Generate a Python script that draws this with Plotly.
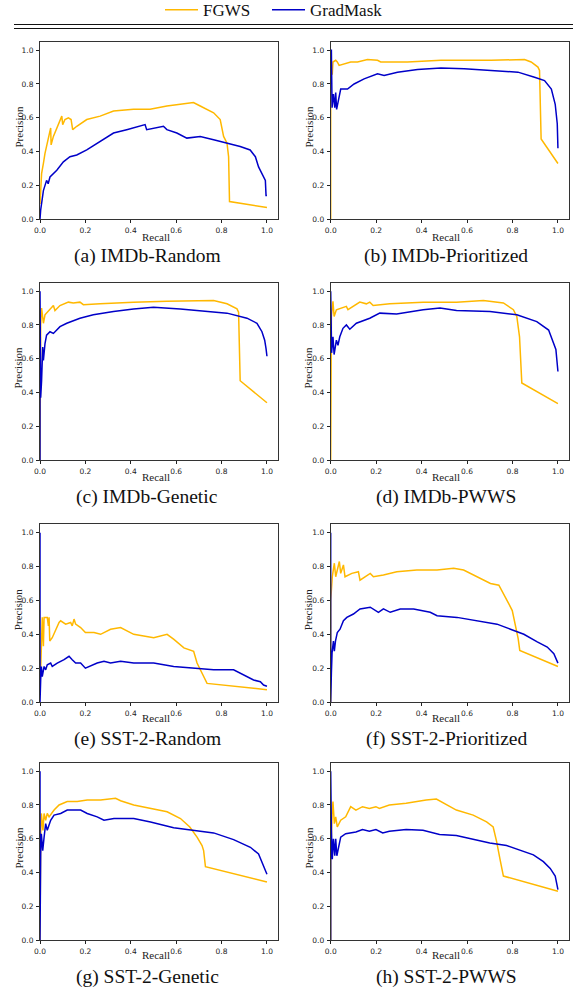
import plotly.graph_objects as go

# ---------------- data (recall, precision) ----------------
panel_titles = ["(a) IMDb-Random", "(b) IMDb-Prioritized", "(c) IMDb-Genetic", "(d) IMDb-PWWS",
                "(e) SST-2-Random", "(f) SST-2-Prioritized", "(g) SST-2-Genetic", "(h) SST-2-PWWS"]
series_names = ["FGWS", "GradMask"]
tick_vals = [0.0, 0.2, 0.4, 0.6, 0.8, 1.0]
tick_text = ["0.0", "0.2", "0.4", "0.6", "0.8", "1.0"]

a_fgws_r = [0, 0.007, 0.015, 0.022, 0.047, 0.049, 0.059, 0.096, 0.1, 0.11, 0.125, 0.137, 0.144, 0.162, 0.206, 0.265, 0.324, 0.412, 0.485, 0.559, 0.618, 0.676, 0.706, 0.765, 0.794, 0.809, 0.824, 0.831, 0.835, 1.0]
a_fgws_p = [0.09, 0.27, 0.33, 0.39, 0.54, 0.44, 0.49, 0.61, 0.56, 0.59, 0.60, 0.59, 0.53, 0.55, 0.59, 0.61, 0.64, 0.65, 0.65, 0.67, 0.68, 0.69, 0.67, 0.63, 0.59, 0.49, 0.45, 0.37, 0.105, 0.07]
a_grad_r = [0, 0.003, 0.015, 0.029, 0.036, 0.044, 0.074, 0.103, 0.132, 0.162, 0.206, 0.265, 0.324, 0.382, 0.441, 0.463, 0.47, 0.515, 0.544, 0.559, 0.603, 0.647, 0.706, 0.765, 0.824, 0.882, 0.926, 0.949, 0.963, 0.978, 0.993, 0.996, 1.0]
a_grad_p = [0.0, 0.055, 0.17, 0.23, 0.21, 0.25, 0.29, 0.34, 0.37, 0.38, 0.41, 0.46, 0.51, 0.53, 0.55, 0.56, 0.53, 0.54, 0.55, 0.53, 0.51, 0.48, 0.49, 0.47, 0.45, 0.43, 0.41, 0.37, 0.31, 0.27, 0.23, 0.14, 0.14]

b_fgws_r = [0, 0, 0.007, 0.01, 0.022, 0.029, 0.037, 0.059, 0.088, 0.118, 0.162, 0.206, 0.22, 0.338, 0.485, 0.706, 0.853, 0.882, 0.912, 0.919, 0.926, 1.0]
b_fgws_p = [0.0, 0.85, 0.86, 0.93, 0.94, 0.93, 0.91, 0.92, 0.93, 0.93, 0.945, 0.94, 0.93, 0.93, 0.94, 0.94, 0.945, 0.93, 0.90, 0.88, 0.475, 0.33]
b_grad_r = [0, 0.003, 0.006, 0.012, 0.018, 0.022, 0.026, 0.037, 0.044, 0.074, 0.103, 0.147, 0.206, 0.235, 0.294, 0.382, 0.485, 0.588, 0.706, 0.824, 0.897, 0.941, 0.971, 0.988, 0.997, 1.0]
b_grad_p = [1.0, 1.0, 0.66, 0.74, 0.66, 0.75, 0.65, 0.74, 0.77, 0.77, 0.80, 0.83, 0.86, 0.85, 0.87, 0.885, 0.895, 0.89, 0.88, 0.87, 0.84, 0.82, 0.77, 0.68, 0.565, 0.42]

c_fgws_r = [0, 0, 0.003, 0.007, 0.015, 0.022, 0.037, 0.059, 0.066, 0.088, 0.125, 0.147, 0.176, 0.191, 0.265, 0.412, 0.559, 0.706, 0.765, 0.824, 0.868, 0.875, 0.882, 1.0]
c_fgws_p = [0.0, 0.25, 0.80, 0.90, 0.81, 0.86, 0.88, 0.915, 0.885, 0.915, 0.935, 0.93, 0.935, 0.92, 0.925, 0.935, 0.94, 0.945, 0.945, 0.925, 0.895, 0.875, 0.47, 0.34]
c_grad_r = [0, 0, 0.003, 0.007, 0.012, 0.015, 0.022, 0.029, 0.044, 0.059, 0.088, 0.118, 0.176, 0.235, 0.324, 0.412, 0.5, 0.618, 0.706, 0.824, 0.912, 0.956, 0.978, 0.99, 0.996, 1.0]
c_grad_p = [0.0, 1.0, 0.37, 0.47, 0.67, 0.59, 0.69, 0.74, 0.76, 0.75, 0.79, 0.81, 0.84, 0.86, 0.88, 0.895, 0.905, 0.895, 0.885, 0.87, 0.84, 0.81, 0.76, 0.71, 0.66, 0.615]

d_fgws_r = [0, 0, 0.003, 0.01, 0.015, 0.025, 0.047, 0.069, 0.076, 0.128, 0.157, 0.172, 0.187, 0.26, 0.407, 0.554, 0.672, 0.76, 0.804, 0.819, 0.831, 0.837, 0.841, 1.0]
d_fgws_p = [0.0, 0.6, 0.85, 0.94, 0.85, 0.89, 0.90, 0.91, 0.89, 0.935, 0.925, 0.935, 0.915, 0.925, 0.935, 0.935, 0.945, 0.93, 0.89, 0.85, 0.73, 0.595, 0.457, 0.335]
d_grad_r = [0, 0.004, 0.01, 0.015, 0.025, 0.032, 0.04, 0.054, 0.069, 0.084, 0.113, 0.172, 0.216, 0.29, 0.407, 0.481, 0.554, 0.701, 0.819, 0.907, 0.959, 0.981, 0.991, 1.0]
d_grad_p = [1.0, 0.635, 0.73, 0.625, 0.71, 0.68, 0.73, 0.78, 0.80, 0.775, 0.81, 0.84, 0.87, 0.865, 0.89, 0.90, 0.885, 0.88, 0.86, 0.82, 0.77, 0.69, 0.655, 0.525]

e_fgws_r = [0.003, 0.006, 0.01, 0.015, 0.018, 0.032, 0.037, 0.04, 0.043, 0.054, 0.084, 0.091, 0.113, 0.135, 0.142, 0.15, 0.157, 0.179, 0.2, 0.238, 0.267, 0.311, 0.355, 0.413, 0.457, 0.501, 0.56, 0.59, 0.634, 0.677, 0.692, 0.707, 0.736, 1.0]
e_fgws_p = [0.19, 0.33, 0.50, 0.33, 0.50, 0.50, 0.45, 0.50, 0.36, 0.38, 0.47, 0.48, 0.46, 0.47, 0.45, 0.49, 0.46, 0.44, 0.41, 0.41, 0.40, 0.43, 0.44, 0.40, 0.39, 0.38, 0.40, 0.37, 0.32, 0.30, 0.23, 0.19, 0.11, 0.073]
e_grad_r = [0, 0, 0.003, 0.006, 0.01, 0.018, 0.025, 0.032, 0.047, 0.054, 0.076, 0.106, 0.128, 0.142, 0.157, 0.179, 0.2, 0.252, 0.282, 0.311, 0.355, 0.413, 0.501, 0.589, 0.677, 0.765, 0.853, 0.897, 0.941, 0.971, 0.985, 1.0]
e_grad_p = [1.0, 0.0, 0.13, 0.21, 0.15, 0.21, 0.19, 0.22, 0.23, 0.21, 0.23, 0.25, 0.27, 0.25, 0.23, 0.23, 0.20, 0.23, 0.24, 0.23, 0.24, 0.23, 0.23, 0.21, 0.20, 0.19, 0.19, 0.16, 0.13, 0.12, 0.10, 0.093]

f_fgws_r = [0, 0, 0.007, 0.016, 0.022, 0.031, 0.038, 0.044, 0.056, 0.063, 0.078, 0.093, 0.122, 0.129, 0.151, 0.174, 0.188, 0.232, 0.291, 0.379, 0.468, 0.541, 0.585, 0.644, 0.703, 0.74, 0.762, 0.784, 0.799, 0.813, 0.825, 0.832, 1.0]
f_fgws_p = [0.0, 0.60, 0.74, 0.82, 0.74, 0.79, 0.83, 0.76, 0.81, 0.74, 0.75, 0.76, 0.77, 0.72, 0.74, 0.76, 0.74, 0.75, 0.77, 0.78, 0.78, 0.79, 0.78, 0.74, 0.70, 0.69, 0.63, 0.58, 0.54, 0.46, 0.375, 0.305, 0.21]
f_grad_r = [0, 0, 0.003, 0.006, 0.012, 0.016, 0.021, 0.029, 0.041, 0.056, 0.071, 0.1, 0.129, 0.174, 0.188, 0.21, 0.232, 0.262, 0.306, 0.365, 0.438, 0.468, 0.556, 0.644, 0.732, 0.791, 0.85, 0.909, 0.953, 0.982, 1.0]
f_grad_p = [1.0, 0.0, 0.17, 0.29, 0.36, 0.30, 0.36, 0.41, 0.43, 0.48, 0.50, 0.52, 0.55, 0.56, 0.55, 0.53, 0.55, 0.53, 0.55, 0.55, 0.53, 0.51, 0.50, 0.48, 0.46, 0.43, 0.40, 0.355, 0.325, 0.285, 0.23]

g_fgws_r = [0, 0, 0.003, 0.006, 0.013, 0.018, 0.025, 0.032, 0.04, 0.062, 0.084, 0.12, 0.164, 0.208, 0.267, 0.333, 0.355, 0.413, 0.487, 0.56, 0.619, 0.66, 0.692, 0.714, 0.721, 0.729, 1.0]
g_fgws_p = [0.0, 0.60, 0.63, 0.75, 0.65, 0.75, 0.71, 0.75, 0.73, 0.77, 0.80, 0.82, 0.82, 0.83, 0.83, 0.84, 0.825, 0.80, 0.78, 0.76, 0.72, 0.67, 0.61, 0.56, 0.53, 0.435, 0.345]
g_grad_r = [0, 0, 0.003, 0.006, 0.012, 0.018, 0.025, 0.032, 0.047, 0.062, 0.091, 0.12, 0.15, 0.179, 0.208, 0.252, 0.282, 0.326, 0.413, 0.487, 0.589, 0.677, 0.765, 0.853, 0.927, 0.963, 0.985, 1.0]
g_grad_p = [1.0, 0.0, 0.51, 0.63, 0.53, 0.61, 0.69, 0.65, 0.71, 0.74, 0.75, 0.77, 0.77, 0.77, 0.75, 0.73, 0.71, 0.72, 0.72, 0.70, 0.665, 0.65, 0.635, 0.595, 0.55, 0.51, 0.44, 0.39]

h_fgws_r = [0, 0, 0.003, 0.007, 0.01, 0.016, 0.022, 0.029, 0.044, 0.066, 0.088, 0.111, 0.14, 0.17, 0.199, 0.214, 0.258, 0.332, 0.42, 0.465, 0.494, 0.553, 0.627, 0.686, 0.715, 0.73, 0.745, 0.76, 1.0]
h_fgws_p = [0.0, 0.615, 0.615, 0.77, 0.82, 0.69, 0.73, 0.67, 0.71, 0.73, 0.79, 0.77, 0.79, 0.78, 0.79, 0.78, 0.80, 0.81, 0.83, 0.835, 0.815, 0.77, 0.74, 0.70, 0.67, 0.585, 0.48, 0.38, 0.29]
h_grad_r = [0, 0, 0.003, 0.007, 0.012, 0.018, 0.022, 0.027, 0.037, 0.044, 0.066, 0.111, 0.14, 0.17, 0.199, 0.229, 0.258, 0.332, 0.406, 0.479, 0.553, 0.642, 0.70, 0.774, 0.848, 0.892, 0.936, 0.966, 0.988, 1.0]
h_grad_p = [0.0, 1.0, 0.655, 0.48, 0.60, 0.50, 0.60, 0.50, 0.57, 0.61, 0.63, 0.64, 0.655, 0.645, 0.655, 0.635, 0.645, 0.655, 0.65, 0.625, 0.62, 0.595, 0.575, 0.56, 0.525, 0.505, 0.465, 0.425, 0.38, 0.30]

fgws_recall = [a_fgws_r, b_fgws_r, c_fgws_r, d_fgws_r, e_fgws_r, f_fgws_r, g_fgws_r, h_fgws_r]
fgws_precision = [a_fgws_p, b_fgws_p, c_fgws_p, d_fgws_p, e_fgws_p, f_fgws_p, g_fgws_p, h_fgws_p]
grad_recall = [a_grad_r, b_grad_r, c_grad_r, d_grad_r, e_grad_r, f_grad_r, g_grad_r, h_grad_r]
grad_precision = [a_grad_p, b_grad_p, c_grad_p, d_grad_p, e_grad_p, f_grad_p, g_grad_p, h_grad_p]

# ---------------- layout geometry ----------------
W, H = 573, 990
FGWS_COLOR = "#FFB800"
GRAD_COLOR = "#0000C8"
SERIF = "Liberation Serif, Times New Roman, serif"
SANS = "DejaVu Sans, sans-serif"

col_px = [(40, 278.3), (330.7, 569.3)]
row_px = [(41.7, 219.3), (282.7, 460.2), (524.3, 702.0), (762.7, 940.3)]
recall_y_px = [236.5, 476.5, 718.0, 954.5]
caption_y_px = [255.5, 497.5, 739.0, 977.0]
caption_x_px = [147, 446]
prec_x_px = [18, 308]

def px_x(v):
    return v / W

def px_y(v):
    return 1 - v / H

fig = go.Figure()
annotations = []
layout_axes = {}

for i in range(8):
    r, c = divmod(i, 2)
    n = i + 1
    xa = "x" if n == 1 else f"x{n}"
    ya = "y" if n == 1 else f"y{n}"
    fig.add_trace(go.Scatter(x=fgws_recall[i], y=fgws_precision[i], mode="lines",
                             line=dict(color=FGWS_COLOR, width=1.5), name=series_names[0],
                             showlegend=(i == 0), legend="legend",
                             xaxis=xa, yaxis=ya, hoverinfo="skip"))
    fig.add_trace(go.Scatter(x=grad_recall[i], y=grad_precision[i], mode="lines",
                             line=dict(color=GRAD_COLOR, width=1.5), name=series_names[1],
                             showlegend=(i == 0), legend="legend2",
                             xaxis=xa, yaxis=ya, hoverinfo="skip"))
    axis_common = dict(range=[0, 1.05], tickvals=tick_vals, ticktext=tick_text,
                       ticks="outside", ticklen=3, tickwidth=0.8, tickcolor="#222",
                       showline=True, linecolor="#333", linewidth=1, mirror=True,
                       showgrid=False, zeroline=False, automargin=False,
                       tickfont=dict(family=SANS, size=7.5, color="#222"), fixedrange=True)
    xkey = "xaxis" if n == 1 else f"xaxis{n}"
    ykey = "yaxis" if n == 1 else f"yaxis{n}"
    layout_axes[xkey] = dict(axis_common, domain=[px_x(col_px[c][0]), px_x(col_px[c][1])],
                             anchor=ya, ticklabelstandoff=1)
    layout_axes[ykey] = dict(axis_common, domain=[px_y(row_px[r][1]), px_y(row_px[r][0])],
                             anchor=xa, ticklabelstandoff=1)
    # axis titles and caption
    annotations.append(dict(text="Recall", x=px_x(col_px[c][0] + 115.5),
                            y=px_y(recall_y_px[r]), xref="paper", yref="paper",
                            showarrow=False, xanchor="center", yanchor="middle",
                            font=dict(family=SERIF, size=11, color="#222")))
    annotations.append(dict(text="Precision", x=px_x(prec_x_px[c]),
                            y=px_y((row_px[r][0] + row_px[r][1]) / 2 - 3), xref="paper", yref="paper",
                            showarrow=False, textangle=-90, xanchor="center", yanchor="middle",
                            font=dict(family=SERIF, size=11, color="#222")))
    annotations.append(dict(text=panel_titles[i], x=px_x(caption_x_px[c]), y=px_y(caption_y_px[r]),
                            xref="paper", yref="paper", showarrow=False,
                            xanchor="center", yanchor="middle",
                            font=dict(family=SERIF, size=19.5, color="#111")))

shapes = [
    dict(type="line", xref="paper", yref="paper", x0=px_x(14), x1=1.0,
         y0=px_y(24.5), y1=px_y(24.5), line=dict(color="#111", width=1.2)),
    dict(type="line", xref="paper", yref="paper", x0=px_x(14), x1=1.0,
         y0=px_y(28.5), y1=px_y(28.5), line=dict(color="#111", width=1.2)),
]

legend_common = dict(orientation="h", xanchor="left", y=1.008, yanchor="top",
                     font=dict(family=SERIF, size=17, color="#111"), itemwidth=33,
                     bgcolor="rgba(0,0,0,0)", tracegroupgap=0)

fig.update_layout(
    width=W, height=H,
    margin=dict(l=0, r=0, t=0, b=0, autoexpand=False),
    paper_bgcolor="white", plot_bgcolor="white",
    showlegend=True,
    legend=dict(legend_common, x=px_x(160)),
    legend2=dict(legend_common, x=px_x(267)),
    annotations=annotations,
    shapes=shapes,
    **layout_axes,
)

fig.write_html("out.html", config={"displayModeBar": False},
               post_script="document.body.style.margin='0';document.body.style.overflow='hidden';")
